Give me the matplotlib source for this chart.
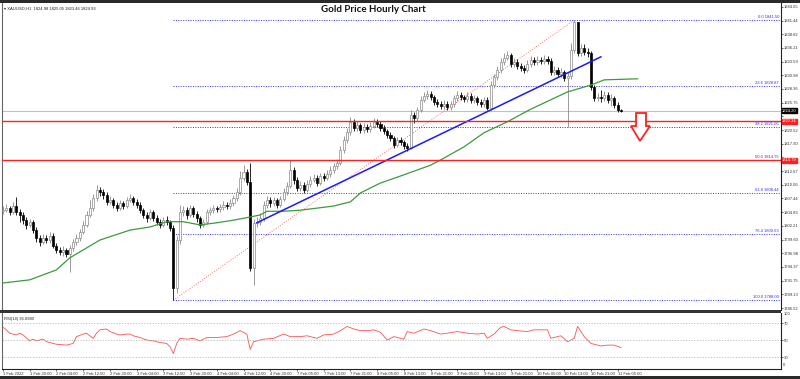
import numpy as np
import matplotlib.pyplot as plt
from matplotlib.patches import Polygon, Rectangle
import matplotlib.transforms as mtransforms

plt.rcParams['font.family'] = ['Liberation Sans', 'DejaVu Sans']

# hourly XAUUSD candles, 1 Feb 12:00 .. 11 Feb 06:00 (open = previous close)
first_open = 1805.0
closes = [
    1805.2, 1805.6, 1804.9, 1806.0, 1804.9, 1804.3, 1803.3, 1802.4, 1803.0, 1801.4,
    1799.9, 1799.1, 1799.9, 1799.5, 1800.3, 1798.4, 1797.6, 1797.2, 1797.6, 1796.8,
    1798.0, 1799.1, 1799.9, 1801.0, 1802.4, 1804.3, 1805.6, 1807.5, 1809.1, 1808.7,
    1808.1, 1806.8, 1807.2, 1806.2, 1805.6, 1806.6, 1806.0, 1807.2, 1807.5, 1806.8,
    1806.2, 1805.2, 1804.3, 1803.7, 1804.9, 1803.7, 1803.0, 1802.4, 1803.3, 1803.0,
    1801.8, 1790.3, 1799.5, 1804.9, 1805.2, 1804.3, 1805.6, 1804.5, 1803.7, 1802.4,
    1803.0, 1804.9, 1805.2, 1805.6, 1805.4, 1805.8, 1806.2, 1806.0, 1806.6, 1807.5,
    1808.7, 1811.4, 1812.5, 1810.6, 1794.2, 1802.8, 1803.0, 1803.7, 1806.2, 1807.2,
    1806.6, 1807.2, 1806.2, 1807.3, 1808.7, 1809.8, 1812.9, 1811.0, 1809.4, 1810.0,
    1809.1, 1810.2, 1811.0, 1811.4, 1810.4, 1811.7, 1811.4, 1812.1, 1812.9, 1813.6,
    1814.2, 1816.7, 1818.6, 1820.1, 1822.1, 1820.9, 1821.5, 1820.5, 1821.1, 1820.7,
    1821.3, 1822.1, 1821.7, 1820.9, 1820.3, 1819.6, 1819.0, 1817.7, 1818.6, 1818.2,
    1817.5, 1817.1, 1823.4, 1822.8, 1824.3, 1826.3, 1827.0, 1827.4, 1826.8, 1825.9,
    1825.5, 1825.1, 1825.5, 1824.9, 1825.5, 1826.6, 1827.2, 1826.8, 1826.4, 1827.0,
    1826.3, 1826.6, 1825.9, 1825.5, 1826.3, 1824.7, 1829.1, 1830.6, 1832.0, 1833.5,
    1834.3, 1834.8, 1833.1, 1833.5, 1832.7, 1832.4, 1832.0, 1833.1, 1833.9, 1833.5,
    1833.9, 1833.7, 1834.1, 1833.7, 1831.6, 1832.0, 1831.2, 1831.6, 1830.5, 1830.8,
    1835.8, 1841.2, 1835.2, 1836.2, 1835.4, 1835.2, 1828.7, 1826.6, 1826.8, 1826.6,
    1827.2, 1826.3, 1826.6, 1825.3, 1824.3, 1824.2]
highs = [
    1806.0, 1806.3, 1806.1, 1806.8, 1807.7, 1805.4, 1804.8, 1803.9, 1803.6, 1803.4,
    1801.9, 1800.5, 1800.6, 1800.4, 1801.0, 1800.8, 1799.0, 1798.2, 1798.3, 1798.0,
    1798.6, 1799.7, 1800.6, 1801.7, 1803.2, 1805.0, 1807.2, 1808.3, 1810.0, 1809.7,
    1809.3, 1808.6, 1807.9, 1807.6, 1806.8, 1807.1, 1807.0, 1807.8, 1808.3, 1808.0,
    1807.3, 1806.7, 1805.6, 1804.9, 1805.5, 1805.3, 1804.2, 1803.6, 1803.9, 1804.0,
    1803.4, 1802.4, 1800.3, 1806.2, 1806.0, 1805.8, 1806.2, 1806.0, 1805.0, 1804.1,
    1803.6, 1805.4, 1805.9, 1806.2, 1806.1, 1806.4, 1806.9, 1806.8, 1807.3, 1808.2,
    1809.4, 1812.6, 1813.9, 1813.0, 1814.2, 1803.5, 1803.9, 1804.6, 1806.9, 1807.9,
    1807.7, 1807.8, 1807.6, 1807.9, 1809.4, 1810.5, 1814.8, 1813.4, 1811.5, 1810.8,
    1810.6, 1810.9, 1811.7, 1812.1, 1811.9, 1812.4, 1812.3, 1812.8, 1813.6, 1814.3,
    1815.0, 1817.4, 1819.3, 1820.9, 1823.0, 1822.6, 1822.2, 1821.9, 1821.8, 1821.6,
    1822.0, 1822.8, 1822.6, 1822.2, 1821.4, 1820.8, 1820.1, 1819.4, 1819.2, 1819.1,
    1818.7, 1818.0, 1824.3, 1823.9, 1825.0, 1827.0, 1827.8, 1828.1, 1827.9, 1827.2,
    1826.4, 1826.0, 1826.2, 1826.0, 1826.1, 1827.3, 1827.9, 1827.7, 1827.3, 1827.7,
    1827.5, 1827.3, 1827.1, 1826.5, 1826.9, 1826.8, 1829.8, 1831.3, 1832.8, 1834.3,
    1835.2, 1835.6, 1835.2, 1834.2, 1834.0, 1833.3, 1833.0, 1833.8, 1834.6, 1834.5,
    1834.6, 1834.5, 1834.9, 1834.7, 1834.3, 1832.8, 1832.5, 1832.3, 1832.0, 1831.6,
    1837.1, 1841.5, 1841.2, 1837.0, 1836.9, 1836.2, 1835.7, 1829.2, 1827.6, 1828.2,
    1827.9, 1827.7, 1827.4, 1827.0, 1825.9, 1824.6]
lows = [
    1804.4, 1804.8, 1804.2, 1804.5, 1804.3, 1803.0, 1802.6, 1801.7, 1801.9, 1800.8,
    1799.2, 1798.4, 1798.7, 1798.9, 1799.0, 1797.9, 1797.0, 1796.6, 1796.5, 1796.2,
    1793.4, 1797.5, 1798.6, 1799.4, 1800.6, 1802.0, 1803.9, 1805.1, 1807.0, 1808.0,
    1807.4, 1806.2, 1806.3, 1805.6, 1805.0, 1805.2, 1805.4, 1805.7, 1806.8, 1806.2,
    1805.6, 1804.6, 1803.7, 1802.9, 1803.3, 1803.1, 1802.4, 1801.8, 1802.0, 1802.4,
    1801.2, 1788.0, 1789.4, 1798.8, 1804.1, 1803.6, 1803.9, 1803.9, 1803.0, 1801.8,
    1801.9, 1802.6, 1804.3, 1804.7, 1804.9, 1804.9, 1805.3, 1805.4, 1805.5, 1806.1,
    1807.0, 1808.2, 1810.8, 1810.0, 1793.5, 1790.9, 1801.9, 1802.3, 1803.2, 1805.7,
    1805.9, 1806.0, 1805.6, 1805.8, 1806.9, 1808.2, 1809.4, 1810.3, 1808.8, 1808.9,
    1808.5, 1808.7, 1809.7, 1810.5, 1809.8, 1810.0, 1810.8, 1810.9, 1811.6, 1812.4,
    1813.0, 1813.8, 1816.2, 1818.0, 1819.6, 1820.3, 1820.3, 1819.9, 1820.0, 1820.1,
    1820.2, 1820.9, 1821.0, 1820.3, 1819.7, 1819.0, 1818.4, 1817.1, 1817.2, 1817.6,
    1816.9, 1816.6, 1816.8, 1821.9, 1822.3, 1823.9, 1825.8, 1826.5, 1826.2, 1825.3,
    1824.9, 1824.5, 1824.6, 1824.3, 1824.4, 1825.0, 1826.1, 1826.2, 1825.8, 1825.9,
    1825.7, 1825.7, 1825.3, 1824.9, 1825.0, 1824.3, 1824.4, 1828.6, 1830.1, 1831.5,
    1833.0, 1833.9, 1832.6, 1832.5, 1832.1, 1831.8, 1831.4, 1831.6, 1832.6, 1832.9,
    1833.0, 1833.1, 1833.2, 1833.1, 1831.0, 1831.0, 1830.6, 1830.6, 1829.9, 1821.1,
    1830.3, 1835.2, 1834.6, 1834.6, 1834.8, 1834.5, 1828.1, 1826.0, 1826.1, 1825.9,
    1826.0, 1825.7, 1825.2, 1824.7, 1823.9, 1823.9]

# moving average (green), read at a few bars
ma_bars = [0, 8, 16, 20, 29, 38, 44, 49, 54, 59, 64, 69, 74, 77, 79, 84, 89, 94, 99,
           104, 107, 113, 118, 128, 131, 138, 144, 151, 158, 169, 176, 180, 190]
ma_vals = [1791.3, 1791.9, 1793.8, 1796.1, 1799.5, 1801.4, 1802.0, 1803.0, 1803.0,
           1802.4, 1802.8, 1803.3, 1803.9, 1804.3, 1805.0, 1805.0, 1805.2, 1805.6,
           1806.0, 1806.8, 1808.5, 1810.4, 1811.5, 1813.8, 1814.8, 1817.3, 1820.0,
           1822.1, 1824.5, 1827.8, 1829.1, 1830.1, 1830.3]

# RSI(14)
rsi_bars = [0, 1, 2, 4, 5, 6, 8, 9, 10, 12, 13, 15, 16, 19, 21, 22, 24, 25, 27, 28,
            29, 31, 32, 34, 35, 37, 38, 39, 41, 43, 45, 47, 49, 50, 51, 52, 53, 55,
            57, 59, 61, 64, 67, 69, 71, 73, 74, 75, 78, 81, 84, 86, 89, 91, 93, 94,
            96, 99, 101, 103, 105, 107, 109, 111, 113, 115, 117, 119, 120, 121, 123,
            126, 128, 131, 133, 136, 139, 142, 144, 145, 147, 149, 150, 152, 154,
            157, 159, 161, 163, 164, 167, 169, 171, 172, 174, 176, 179, 181, 183, 185]
rsi_vals = [65, 62, 58, 56, 58, 56, 49, 51, 49, 51, 48, 46, 45, 44, 46, 54, 57, 58,
            52, 58, 62, 63, 60, 57, 56, 57, 57, 55, 53, 50, 49, 47, 46, 42, 34, 46,
            52, 51, 52, 49, 53, 53, 54, 57, 61, 57, 39, 48, 51, 52, 57, 54, 54, 55,
            53, 52, 56, 57, 61, 66, 63, 61, 61, 62, 59, 50, 54, 52, 51, 60, 58, 63,
            61, 57, 58, 60, 58, 57, 58, 52, 57, 65, 66, 62, 61, 60, 62, 62, 62, 52,
            55, 48, 52, 66, 54, 46, 43, 44, 44, 41]
rsi_levels = [70, 50, 30]

time_labels = ['1 Feb 2022', '1 Feb 20:00', '2 Feb 04:00', '2 Feb 12:00', '2 Feb 20:00',
               '3 Feb 04:00', '3 Feb 12:00', '3 Feb 20:00', '4 Feb 04:00', '4 Feb 12:00',
               '4 Feb 20:00', '7 Feb 05:00', '7 Feb 13:00', '7 Feb 21:00', '8 Feb 05:00',
               '8 Feb 13:00', '8 Feb 21:00', '9 Feb 05:00', '9 Feb 13:00', '9 Feb 21:00',
               '10 Feb 05:00', '10 Feb 13:00', '10 Feb 21:00', '11 Feb 05:00']

trend_bars = [76, 179]
trend_vals = [1802.8, 1834.5]
fib_low_bar, fib_high_bar = 51, 171
fib_ratios = [0.0, 23.6, 38.2, 50.0, 61.8, 76.4, 100.0]
support_levels = [1822.24, 1814.79]

SMALL = 3.0
W, H = 800, 379
fig = plt.figure(figsize=(W / 100, H / 100), dpi=100)
fig.patch.set_facecolor('white')

def fx(px):
    return px / W

def fy(py):
    return 1 - py / H

ax = fig.add_axes([fx(2), fy(310), fx(781) - fx(2), fy(3) - fy(310)])
axr = fig.add_axes([fx(2), fy(369), fx(781) - fx(2), fy(313) - fy(369)], sharex=ax)

# dark bands at top and bottom of the window, separator above the RSI pane
fig.add_artist(Rectangle((0, fy(3)), 1, 1 - fy(3), transform=fig.transFigure,
                         color='#2a2a2a', lw=0))
fig.add_artist(Rectangle((0, 0), 1, fy(376), transform=fig.transFigure,
                         color='#2a2a2a', lw=0))
fig.add_artist(Rectangle((0, fy(312.5)), fx(781), fy(310) - fy(312.5),
                         transform=fig.transFigure, color='#333333', lw=0))

o = np.array([first_open] + closes[:-1])
c = np.array(closes)
hi = np.array(highs)
lo = np.array(lows)
idx = np.arange(len(c))
up = c >= o

ax.vlines(idx, lo, hi, colors=np.where(up, '#8a8a8a', '#000000'), lw=0.6, zorder=3)
ax.bar(idx[up], np.maximum(c - o, 0.08)[up], bottom=o[up], width=0.62, color='white',
       edgecolor='#8a8a8a', lw=0.5, zorder=4)
ax.bar(idx[~up], (o - c)[~up], bottom=c[~up], width=0.62, color='black',
       edgecolor='black', lw=0.5, zorder=4)

# moving average
ax.plot(ma_bars, ma_vals, color='#3c9a3c', lw=0.9, zorder=5)

# fibonacci retracement
f_lo = lows[fib_low_bar]
f_hi = highs[fib_high_bar]
ax.plot([fib_low_bar, fib_high_bar], [f_lo, f_hi], color='#ff4040', lw=0.6,
        ls=(0, (1, 2)), zorder=2)
for r in fib_ratios:
    lv = f_hi - (f_hi - f_lo) * r / 100
    ax.plot([fib_low_bar, 232.9], [lv, lv], color='#3030ff', lw=0.7, ls=(0, (1, 1.5)),
            zorder=2)
    ax.text(232.3, lv + 0.25, f'{r:.1f} {lv:.2f}', color='#3030ff', fontsize=SMALL,
            ha='right', va='bottom', zorder=6)

# trend line
ax.plot(trend_bars, trend_vals, color='#1a1aff', lw=1.1, zorder=6)

# horizontal supports + current price line
ax.axhline(closes[-1], color='#c0c0c0', lw=0.8, zorder=1)
for lv in support_levels:
    ax.axhline(lv, color='#ff2020', lw=1.0, zorder=6)

ax.set_xlim(-0.3, 232.9)
ax.set_ylim(1786.14, 1844.78)

# price scale; labels hidden where the price boxes sit on top of them
boxed = support_levels + [closes[-1]]
ticks = np.arange(1786.52, 1845, 2.615)
ax.yaxis.tick_right()
ax.set_yticks(ticks)
ax.set_yticklabels(['' if min(abs(t - b) for b in boxed) < 1.3 else f'{t:.2f}'
                    for t in ticks])
ax.tick_params(axis='y', labelsize=SMALL, length=1.5, width=0.5, pad=0.8,
               colors='#333333')
ax.tick_params(axis='x', bottom=False, labelbottom=False)
for s in ['top', 'bottom']:
    ax.spines[s].set_visible(False)
ax.spines['left'].set_color('#666666')
ax.spines['left'].set_linewidth(0.8)
ax.spines['right'].set_color('#222222')
ax.spines['right'].set_linewidth(0.8)

# price boxes on the right axis
trans = mtransforms.blended_transform_factory(ax.transAxes, ax.transData)
ax.text(1.0015, closes[-1], f'{closes[-1]:.2f}', transform=trans, fontsize=SMALL,
        color='white', va='center', ha='left',
        bbox=dict(boxstyle='square,pad=0.12', fc='black', ec='black'), clip_on=False)
for lv in support_levels:
    ax.text(1.0015, lv, f'{lv:.2f}', transform=trans, fontsize=SMALL, color='white',
            va='center', ha='left', clip_on=False,
            bbox=dict(boxstyle='square,pad=0.12', fc='#ff2020', ec='#ff2020'))

# red hollow arrow
arrow = Polygon([(0.8139, 0.6417), (0.8267, 0.6417), (0.8267, 0.5993), (0.8318, 0.5993),
                 (0.8190, 0.5505), (0.8074, 0.5993), (0.8139, 0.5993)],
                closed=True, transform=ax.transAxes, fc='white', ec='#ff2020', lw=1.3,
                zorder=7)
ax.add_patch(arrow)

ax.text(0.002, 0.99, '\u25be XAUUSD,H1  1824.98 1825.05 1823.46 1824.93',
        transform=ax.transAxes, fontsize=SMALL, va='top', ha='left', color='#222222',
        family=['Liberation Sans', 'DejaVu Sans'])
fig.text(fx(373), fy(9), 'Gold Price Hourly Chart', fontsize=7, fontweight='bold',
         family='Lato', ha='center', va='center', color='#111111')

# RSI panel
axr.plot(rsi_bars, rsi_vals, color='#ff5050', lw=0.6)
for lv in rsi_levels:
    axr.axhline(lv, color='#b0b0b0', lw=0.5, ls=(0, (2, 2)))
axr.set_ylim(15.9, 81.8)
axr.yaxis.tick_right()
axr.set_yticks([70, 50, 30])
axr.set_yticklabels(['70', '50', '30'])
axr.tick_params(axis='y', labelsize=SMALL, length=1.5, width=0.5, pad=0.8,
                colors='#333333')
axr.text(1.003, 0.98, '100', transform=axr.transAxes, fontsize=SMALL, va='center',
         ha='left', color='#333333')
axr.text(1.003, 0.07, '0', transform=axr.transAxes, fontsize=SMALL, va='center',
         ha='left', color='#333333')
axr.text(0.003, 0.93, 'RSI(14) 36.0980', transform=axr.transAxes, fontsize=SMALL,
         va='top', ha='left', color='#222222')

xt = np.arange(len(time_labels)) * 8
axr.set_xticks(xt)
axr.set_xticklabels(time_labels)
for lab in axr.get_xticklabels():
    lab.set_horizontalalignment('left')
axr.tick_params(axis='x', labelsize=SMALL, length=1.5, width=0.5, pad=0.8,
                colors='#333333')
axr.spines['top'].set_visible(False)
axr.spines['left'].set_color('#666666')
axr.spines['left'].set_linewidth(0.8)
axr.spines['right'].set_color('#222222')
axr.spines['right'].set_linewidth(0.8)
axr.spines['bottom'].set_color('#222222')
axr.spines['bottom'].set_linewidth(0.8)

fig.savefig('out.png', dpi=100)
